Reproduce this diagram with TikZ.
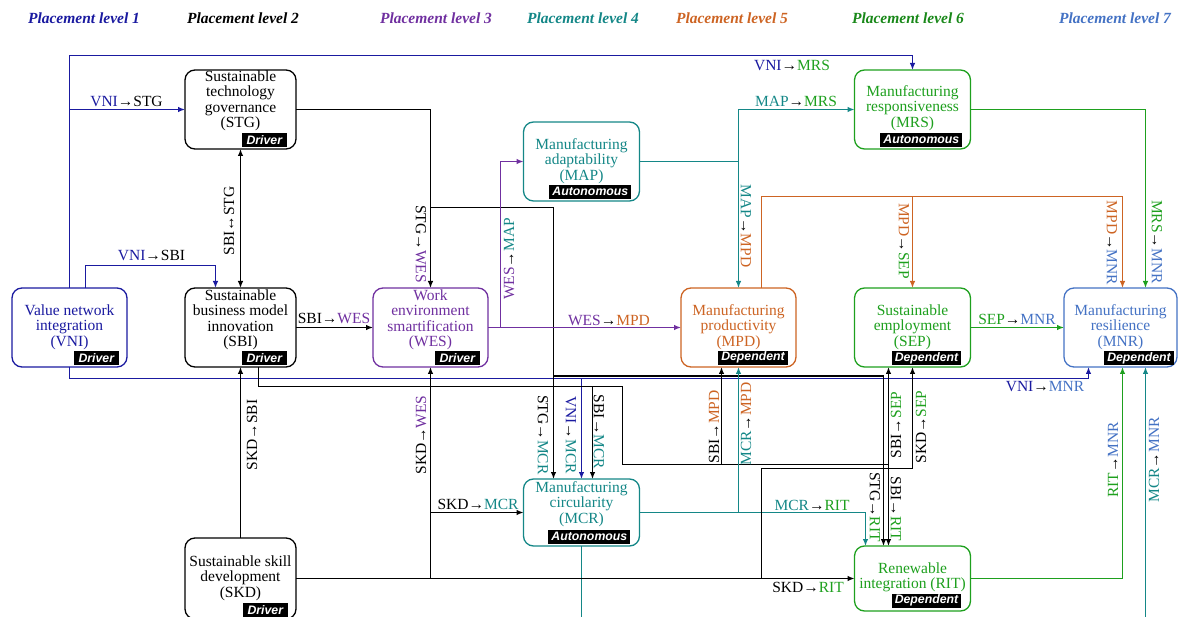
\documentclass[tikz,border=0pt]{standalone}
\usepackage{fontspec}
\setmainfont{Liberation Serif}
\newfontfamily\tagfamily{Liberation Sans}
\usetikzlibrary{arrows.meta}
\definecolor{cVNI}{RGB}{26,26,160}
\definecolor{cWES}{RGB}{112,48,160}
\definecolor{cTEAL}{RGB}{20,135,135}
\definecolor{cORG}{RGB}{205,100,35}
\definecolor{cGRN}{RGB}{30,160,30}
\definecolor{cMNR}{RGB}{68,114,196}
\newcommand{\lab}[4]{\textcolor{#1}{#2}\textcolor{black}{→}\textcolor{#3}{#4}}
\begin{document}
\begin{tikzpicture}[x=1pt,y=-1pt,
  box/.style={draw, rounded corners=10pt, line width=1.3pt, fill=white, inner sep=0pt, outer sep=0pt},
  btxt/.style={align=center, inner sep=0pt, font=\fontsize{15.5}{15.5}\selectfont},
  tagbox/.style={fill=black, text=white, font=\tagfamily\bfseries\itshape\fontsize{12.3}{12.3}\selectfont, inner xsep=3pt, inner ysep=0pt, minimum height=14pt, anchor=south east},
  drv/.style={tagbox, minimum width=45pt},
  ttl/.style={font=\bfseries\itshape\fontsize{15.5}{15.5}\selectfont, inner sep=0pt},
  con/.style={line width=1.2pt, -{Latex[length=7pt,width=5.5pt]}},
  lbl/.style={inner sep=0pt, font=\fontsize{15.5}{15.5}\selectfont},
]
\useasboundingbox (0,0) rectangle (1178,617);
\clip (0,0) rectangle (1178,617);

% titles
\node[ttl, text=cVNI] (T1) at (84,18) {Placement level 1};
\node[ttl, text=black] (T2) at (243,18) {Placement level 2};
\node[ttl, text=cWES] (T3) at (436,18) {Placement level 3};
\node[ttl, text=cTEAL] (T4) at (583,18) {Placement level 4};
\node[ttl, text=cORG] (T5) at (732,18) {Placement level 5};
\node[ttl, text=cGRN!85!black] (T6) at (908,18) {Placement level 6};
\node[ttl, text=cMNR] (T7) at (1115,18) {Placement level 7};

% boxes
\node[box, draw=cVNI, minimum width=115pt, minimum height=79pt] (VNI) at (69.5,327.5) {};
\node[box, draw=black, minimum width=111pt, minimum height=79pt] (STG) at (240.5,109.5) {};
\node[box, draw=black, minimum width=111pt, minimum height=79pt] (SBI) at (240.5,327.5) {};
\node[box, draw=black, minimum width=111pt, minimum height=81pt] (SKD) at (240.5,578.5) {};
\node[box, draw=cWES, minimum width=115pt, minimum height=79pt] (WES) at (430.5,327.5) {};
\node[box, draw=cTEAL, minimum width=116pt, minimum height=79pt] (MAP) at (581.5,161.5) {};
\node[box, draw=cTEAL, minimum width=116pt, minimum height=67pt] (MCR) at (581.5,512.5) {};
\node[box, draw=cORG, minimum width=115pt, minimum height=79pt] (MPD) at (738.5,327.5) {};
\node[box, draw=cGRN, minimum width=116pt, minimum height=79pt] (MRS) at (912.5,109.5) {};
\node[box, draw=cGRN, minimum width=116pt, minimum height=79pt] (SEP) at (912.5,327.5) {};
\node[box, draw=cGRN, minimum width=116pt, minimum height=65pt] (RIT) at (912.5,578.5) {};
\node[box, draw=cMNR, minimum width=113pt, minimum height=79pt] (MNR) at (1120.5,327.5) {};

% box texts
\node[btxt, text=cVNI] (VNIt) at (69.5,327) {Value network\\integration\\(VNI)};
\node[btxt] (STGt) at (240.5,101) {Sustainable\\technology\\governance\\(STG)};
\node[btxt] (SBIt) at (240.5,320) {Sustainable\\business model\\innovation\\(SBI)};
\node[btxt] (SKDt) at (240.5,578) {Sustainable skill\\development\\(SKD)};
\node[btxt, text=cWES] (WESt) at (430.5,320) {Work\\environment\\smartification\\(WES)};
\node[btxt, text=cTEAL] (MAPt) at (581.5,161) {Manufacturing\\adaptability\\(MAP)};
\node[btxt, text=cTEAL] (MCRt) at (581.5,504) {Manufacturing\\circularity\\(MCR)};
\node[btxt, text=cORG] (MPDt) at (738.5,327) {Manufacturing\\productivity\\(MPD)};
\node[btxt, text=cGRN] (MRSt) at (912.5,108) {Manufacturing\\responsiveness\\(MRS)};
\node[btxt, text=cGRN] (SEPt) at (912.5,327) {Sustainable\\employment\\(SEP)};
\node[btxt, text=cGRN] (RITt) at (912.5,577.5) {Renewable\\integration (RIT)};
\node[btxt, text=cMNR] (MNRt) at (1120.5,327) {Manufacturing\\resilience\\(MNR)};

% tags
\node[drv] (VNIg) at ([xshift=-8pt,yshift=1.5pt]VNI.south east) {Driver};
\node[drv] (STGg) at ([xshift=-9pt,yshift=2pt]STG.south east) {Driver};
\node[drv] (SBIg) at ([xshift=-9pt,yshift=1.5pt]SBI.south east) {Driver};
\node[drv] (SKDg) at ([xshift=-8pt,yshift=1.5pt]SKD.south east) {Driver};
\node[drv] (WESg) at ([xshift=-8pt,yshift=2pt]WES.south east) {Driver};
\node[tagbox] (MAPg) at ([xshift=-8pt,yshift=2pt]MAP.south east) {Autonomous};
\node[tagbox] (MCRg) at ([xshift=-9pt,yshift=2pt]MCR.south east) {Autonomous};
\node[tagbox] (MRSg) at ([xshift=-8pt,yshift=2pt]MRS.south east) {Autonomous};
\node[tagbox] (MPDg) at ([xshift=-8pt,yshift=2pt]MPD.south east) {Dependent};
\node[tagbox] (SEPg) at ([xshift=-9pt,yshift=1.5pt]SEP.south east) {Dependent};
\node[tagbox] (RITg) at ([xshift=-9pt,yshift=3pt]RIT.south east) {Dependent};
\node[tagbox] (MNRg) at ([xshift=-3pt,yshift=1.5pt]MNR.south east) {Dependent};

% junction coordinates
\coordinate (jVtop) at (69.5,55.5);
\coordinate (jVS) at (69.5,109.5);
\coordinate (jVbot) at (69.5,378.5);
\coordinate (jVM) at (581.5,378.5);
\coordinate (jSW) at (430.5,207.5);
\coordinate (jSR) at (553.5,376);
\coordinate (jB1) at (258.5,386.5);
\coordinate (jB2) at (622.5,386.5);
\coordinate (jB3) at (622.5,464.5);
\coordinate (jB4) at (888.5,464.5);
\coordinate (jBM) at (592.5,386.5);
\coordinate (jBP) at (721.5,464.5);
\coordinate (jWM) at (500.5,327.5);
\coordinate (jMM) at (738.5,161.5);
\coordinate (jP1) at (761.5,196.5);
\coordinate (jMP) at (912.5,196.5);
\coordinate (jMC) at (738.5,512.5);
\coordinate (jMR) at (581.5,640);
\coordinate (jKW) at (430.5,578.5);
\coordinate (jKM) at (430.5,512.5);
\coordinate (jKS) at (761.5,578.5);
\coordinate (jKS2) at (761.5,468.5);

% VNI edges
\draw[con, cVNI] (VNI.north) -- (jVtop) -| (MRS.north);
\draw[con, cVNI] (jVS) -- (STG.west);
\draw[con, cVNI] ([xshift=16pt]VNI.north) -- ++(0,-22.5) -| ([xshift=-25pt]SBI.north);
\draw[con, cVNI] (VNI.south) -- (jVbot) -| ([xshift=-32pt]MNR.south);
\draw[con, cVNI] (jVM) -- (MCR.north);

% STG edges
\draw[line width=1.2pt, {Latex[length=7pt,width=5.5pt]}-{Latex[length=7pt,width=5.5pt]}] (SBI.north) -- (STG.south);
\draw[con] (STG.east) -| (WES.north);
\draw[con] (jSW) -| ([xshift=-28pt]MCR.north);
\draw[con] (jSR) -| ([xshift=-29pt]RIT.north);

% SBI edges
\draw[con] (SBI.east) -- (WES.west);
\draw[con] ([xshift=18pt]SBI.south) -- (jB1) -- (jB2) -- (jB3) -- (jB4) -- ([xshift=-24pt]SEP.south);
\draw[con] (jB4) -- ([xshift=-24pt]RIT.north);
\draw[con] (jBM) -- ([xshift=11pt]MCR.north);
\draw[con] (jBP) -- ([xshift=-17pt]MPD.south);

% WES edges
\draw[con, cWES] (WES.east) -- (MPD.west);
\draw[con, cWES] (jWM) |- (MAP.west);

% MAP edges
\draw[con, cTEAL] (MAP.east) -| (MPD.north);
\draw[con, cTEAL] (jMM) |- (MRS.west);

% MRS, MPD, SEP edges
\draw[con, cGRN] (MRS.east) -| ([xshift=25pt]MNR.north);
\draw[con, cORG] ([xshift=23pt]MPD.north) -- (jP1) -| (SEP.north);
\draw[con, cORG] (jMP) -| ([xshift=2pt]MNR.north);
\draw[con, cGRN] (SEP.east) -- (MNR.west);

% MCR edges
\draw[con, cTEAL] (jMC) -- (MPD.south);
\draw[con, cTEAL] (MCR.east) -| ([xshift=-47pt]RIT.north);
\draw[con, cTEAL] (MCR.south) -- (jMR) -| ([xshift=25pt]MNR.south);

% RIT edge
\draw[con, cGRN] (RIT.east) -| ([xshift=2pt]MNR.south);

% SKD edges
\draw[con] (SKD.north) -- (SBI.south);
\draw[con] (SKD.east) -- (RIT.west);
\draw[con] (jKW) -- (WES.south);
\draw[con] (jKM) -- (MCR.west);
\draw[con] (jKS) -- (jKS2) -| (SEP.south);

% labels (horizontal)
\node[lbl] (L1) at (792,65) {\lab{cVNI}{VNI}{cGRN}{MRS}};
\node[lbl] (L2) at (126.5,101) {\lab{cVNI}{VNI}{black}{STG}};
\node[lbl] (L3) at (151.5,255) {\lab{cVNI}{VNI}{black}{SBI}};
\node[lbl] (L4) at (1045,387) {\lab{cVNI}{VNI}{cMNR}{MNR}};
\node[lbl] (L5) at (334,318) {\lab{black}{SBI}{cWES}{WES}};
\node[lbl] (L6) at (609,320) {\lab{cWES}{WES}{cORG}{MPD}};
\node[lbl] (L7) at (796,101) {\lab{cTEAL}{MAP}{cGRN}{MRS}};
\node[lbl] (L8) at (1017,319) {\lab{cGRN}{SEP}{cMNR}{MNR}};
\node[lbl] (L9) at (478,504) {\lab{black}{SKD}{cTEAL}{MCR}};
\node[lbl] (L10) at (812,505) {\lab{cTEAL}{MCR}{cGRN}{RIT}};
\node[lbl] (L11) at (808,587) {\lab{black}{SKD}{cGRN}{RIT}};

% labels reading upward
\node[lbl, rotate=90] (L12) at (229,221) {SBI↔STG};
\node[lbl, rotate=90] (L13) at (509,259) {\lab{cWES}{WES}{cTEAL}{MAP}};
\node[lbl, rotate=90] (L14) at (252,435) {\lab{black}{SKD}{black}{SBI}};
\node[lbl, rotate=90] (L15) at (421,435) {\lab{black}{SKD}{cWES}{WES}};
\node[lbl, rotate=90] (L16) at (714,427) {\lab{black}{SBI}{cORG}{MPD}};
\node[lbl, rotate=90] (L17) at (746,424) {\lab{cTEAL}{MCR}{cORG}{MPD}};
\node[lbl, rotate=90] (L18) at (896,425) {\lab{black}{SBI}{cGRN}{SEP}};
\node[lbl, rotate=90] (L19) at (921,427) {\lab{black}{SKD}{cGRN}{SEP}};
\node[lbl, rotate=90] (L20) at (1113,460) {\lab{cGRN}{RIT}{cMNR}{MNR}};
\node[lbl, rotate=90] (L21) at (1154,460) {\lab{cTEAL}{MCR}{cMNR}{MNR}};

% labels reading downward
\node[lbl, rotate=-90] (L22) at (421,244) {\lab{black}{STG}{cWES}{WES}};
\node[lbl, rotate=-90] (L23) at (746,226) {\lab{cTEAL}{MAP}{cORG}{MPD}};
\node[lbl, rotate=-90] (L24) at (904,241) {\lab{cORG}{MPD}{cGRN}{SEP}};
\node[lbl, rotate=-90] (L25) at (1112,243) {\lab{cORG}{MPD}{cMNR}{MNR}};
\node[lbl, rotate=-90] (L26) at (1157,242) {\lab{cGRN}{MRS}{cMNR}{MNR}};
\node[lbl, rotate=-90] (L27) at (543,435) {\lab{black}{STG}{cTEAL}{MCR}};
\node[lbl, rotate=-90] (L28) at (571,435) {\lab{cVNI}{VNI}{cTEAL}{MCR}};
\node[lbl, rotate=-90] (L29) at (599,432) {\lab{black}{SBI}{cTEAL}{MCR}};
\node[lbl, rotate=-90] (L30) at (875,507) {\lab{black}{STG}{cGRN}{RIT}};
\node[lbl, rotate=-90] (L31) at (896,509) {\lab{black}{SBI}{cGRN}{RIT}};
\end{tikzpicture}
\end{document}
